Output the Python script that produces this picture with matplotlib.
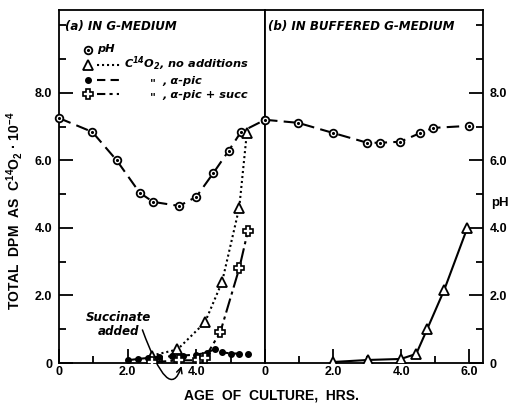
import matplotlib
matplotlib.use("Agg")
import matplotlib.pyplot as plt
from matplotlib.ticker import MultipleLocator

plt.rcParams['font.family'] = ['Liberation Sans', 'DejaVu Sans']
plt.rcParams['mathtext.default'] = 'regular'

# panel (a): G-medium
ph_a_x = [0, 0.97, 1.68, 2.35, 2.74, 3.5, 4.0, 4.5, 4.94, 5.3, 6.0]
ph_a_y = [7.25, 6.84, 6.0, 5.04, 4.77, 4.65, 4.92, 5.63, 6.28, 6.84, 7.2]

tri_a_x = [2.7, 3.45, 4.25, 4.75, 5.25, 5.47]
tri_a_y = [0.22, 0.4, 1.2, 2.4, 4.6, 6.8]

dot_a_x = [2.0, 2.3, 2.6, 2.9, 3.3, 3.6, 4.0, 4.3, 4.55, 4.75, 5.0, 5.25, 5.5]
dot_a_y = [0.08, 0.12, 0.15, 0.18, 0.2, 0.22, 0.25, 0.3, 0.42, 0.32, 0.28, 0.28, 0.27]

crs_a_x = [2.7, 3.5, 4.05, 4.25, 4.7, 5.25, 5.5]
crs_a_y = [0.02, 0.08, 0.08, 0.15, 0.92, 2.8, 3.9]

# panel (b): buffered G-medium
ph_b_x = [0, 0.97, 2.0, 3.0, 3.38, 3.97, 4.56, 4.94, 5.99]
ph_b_y = [7.2, 7.11, 6.81, 6.52, 6.52, 6.55, 6.81, 6.96, 7.02]

tri_b_x = [2.0, 3.03, 3.99, 4.44, 4.76, 5.26, 5.94]
tri_b_y = [0.03, 0.09, 0.12, 0.27, 1.0, 2.16, 4.0]

W, H = 516, 403
fig = plt.figure(figsize=(W / 100, H / 100), dpi=100)
ax1 = fig.add_axes([59 / W, 40 / H, 206 / W, 353 / H])
ax2 = fig.add_axes([265 / W, 40 / H, 218 / W, 353 / H])

tfont = dict(fontweight='bold', fontsize=9)
lfont = dict(fontweight='bold', fontstyle='italic', fontsize=8.6, family='DejaVu Sans')
sfont = dict(lfont, fontsize=8.2)
lw = 1.5


def ph_plot(ax, x, y, **kw):
    ax.plot(x, y, color='black', lw=lw, dashes=(6, 3), marker='o', ms=5.5,
            mfc='white', mec='black', mew=1.3, clip_on=False, **kw)
    ax.plot(x, y, ls='none', marker='.', ms=2.5, color='black', clip_on=False, **kw)


for ax in (ax1, ax2):
    ax.set_ylim(0, 10.45)
    for s in ax.spines.values():
        s.set_linewidth(1.3)
    ax.xaxis.set_minor_locator(MultipleLocator(1))
    ax.yaxis.set_minor_locator(MultipleLocator(1))
    ax.tick_params(which='major', direction='in', length=10, width=1.3)
    ax.tick_params(which='minor', direction='in', length=5, width=1.3)
    ax.tick_params(axis='x', pad=2.5)
    ax.tick_params(axis='y', pad=5)
    ax.set_yticks([0, 2, 4, 6, 8])
    ax.set_yticklabels(['0', '2.0', '4.0', '6.0', '8.0'], **tfont)

ax1.set_xlim(0, 6.0)
ax1.set_xticks([0, 2, 4])
ax1.set_xticklabels(['0', '2.0', '4.0'], **tfont)
ax1.tick_params(axis='y', left=True, right=False, which='both')

ax2.set_xlim(0, 6.4)
ax2.set_xticks([0, 2, 4, 6])
ax2.set_xticklabels(['0', '2.0', '4.0', '6.0'], **tfont)
ax2.yaxis.tick_right()
ax2.tick_params(axis='y', which='both', left=False, right=True)

# panel (a) curves
ph_plot(ax1, ph_a_x, ph_a_y, zorder=3)
ax1.plot(tri_a_x, tri_a_y, color='black', lw=lw, dashes=(1, 1.4), marker='^', ms=6.5,
         mfc='white', mec='black', mew=1.3, zorder=4)
ax1.plot(dot_a_x, dot_a_y, color='black', lw=lw, dashes=(4, 2.5), marker='o', ms=4,
         zorder=4)
ax1.plot(crs_a_x, crs_a_y, color='black', lw=lw, dashes=(7, 2, 1.5, 2), marker='P', ms=7,
         mfc='white', mec='black', mew=1.2, zorder=5)

# panel (b) curves
ph_plot(ax2, ph_b_x, ph_b_y, zorder=3)
ax2.plot(tri_b_x, tri_b_y, color='black', lw=lw, marker='^', ms=6.5,
         mfc='white', mec='black', mew=1.3, zorder=4)

# titles
ax1.text(0.03, 0.952, '(a) IN G-MEDIUM', transform=ax1.transAxes, va='center', **lfont)
ax2.text(0.014, 0.952, '(b) IN BUFFERED G-MEDIUM', transform=ax2.transAxes, va='center', **lfont)

# legend drawn by hand
tr = ax1.transAxes
mx = 0.141
ax1.plot([mx], [0.887], marker='o', ms=5.5, mfc='white', mec='black', mew=1.3, transform=tr)
ax1.plot([mx], [0.887], marker='.', ms=2.5, color='black', transform=tr)
ax1.text(0.184, 0.89, 'pH', transform=tr, va='center', **sfont)

ax1.plot([mx], [0.843], marker='^', ms=6.5, mfc='white', mec='black', mew=1.3, transform=tr)
ax1.plot([0.184, 0.296], [0.843, 0.843], color='black', lw=lw, dashes=(1, 1.4), transform=tr)
ax1.text(0.316, 0.847, 'C$^{14}$O$_2$, no additions', transform=tr, va='center', **sfont)

ax1.plot([mx], [0.802], marker='o', ms=4, color='black', transform=tr)
ax1.plot([0.184, 0.29], [0.802, 0.802], color='black', lw=lw, dashes=(4, 2.5), transform=tr)
ax1.text(0.44, 0.793, '"', transform=tr, va='center', **sfont)
ax1.text(0.5, 0.799, ', α-pic', transform=tr, va='center', **sfont)

ax1.plot([mx], [0.762], marker='P', ms=7, mfc='white', mec='black', mew=1.2, transform=tr)
ax1.plot([0.184, 0.29], [0.762, 0.762], color='black', lw=lw, dashes=(4, 2, 1.5, 2), transform=tr)
ax1.text(0.44, 0.753, '"', transform=tr, va='center', **sfont)
ax1.text(0.5, 0.759, ', α-pic + succ', transform=tr, va='center', **sfont)

# succinate annotation
ax1.text(1.73, 1.15, 'Succinate\nadded', ha='center', va='center', linespacing=1.1, **lfont)
ax1.annotate('', xy=(3.57, -0.09), xytext=(2.43, 0.98), annotation_clip=False,
             arrowprops=dict(arrowstyle='->', lw=1.1, color='black',
                             connectionstyle='angle3,angleA=-70,angleB=72',
                             shrinkA=0, shrinkB=0))

# axis labels
fig.text(15 / W, 1 - 211 / H, 'TOTAL  DPM  AS  C$^{14}$O$_2$ · 10$^{-4}$', rotation=90,
         ha='center', va='center', fontweight='bold', fontsize=10)
fig.text(272 / W, 1 - 395 / H, 'AGE  OF  CULTURE,  HRS.', ha='center', va='center',
         fontweight='bold', fontsize=10)
fig.text(500 / W, 1 - 203 / H, 'pH', ha='center', va='center', fontweight='bold', fontsize=9.5)

fig.savefig('out.png', dpi=100)
